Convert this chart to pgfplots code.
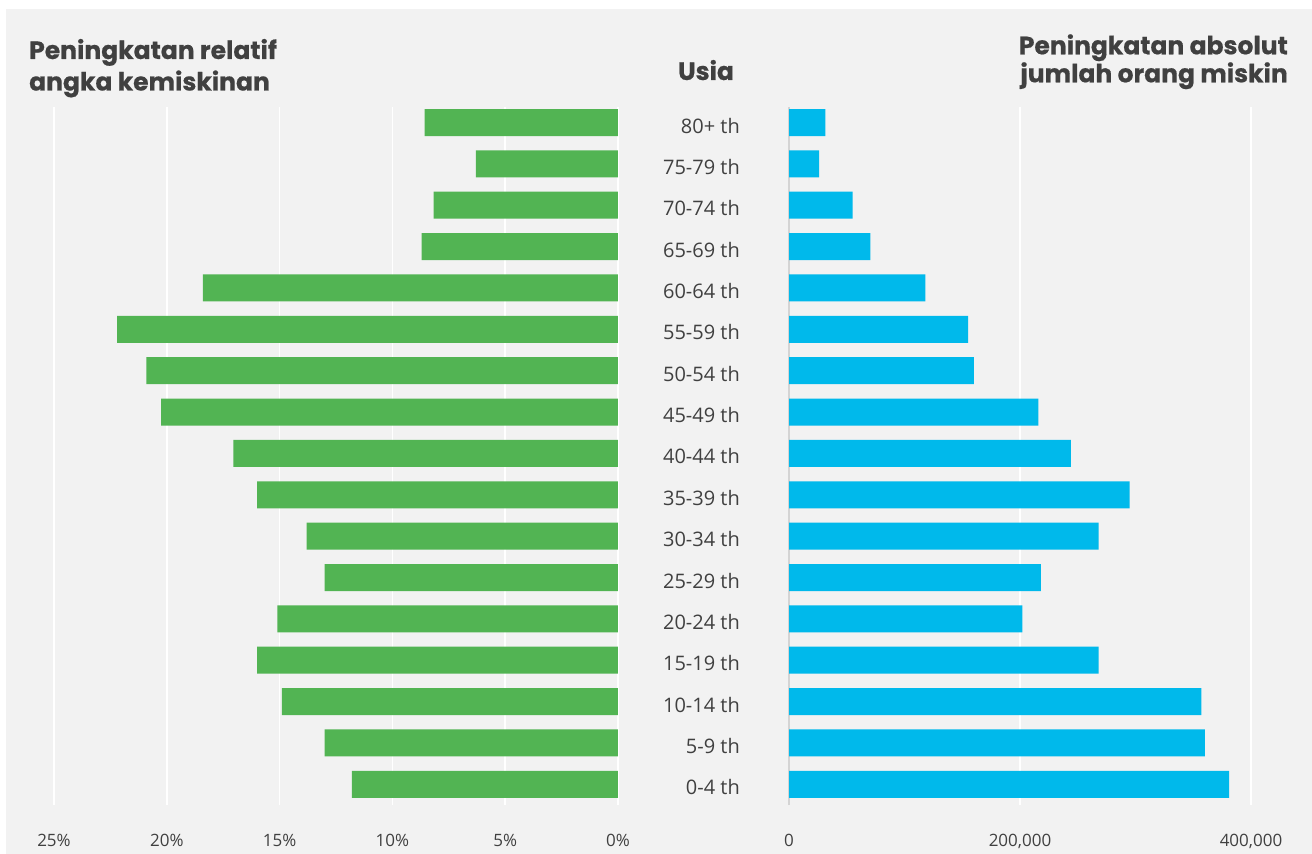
\documentclass[border=0pt]{standalone}
\usepackage{pgfplots}
\pgfplotsset{compat=1.18}
\usepackage{pgfplotstable}
\usepackage{fontspec}
\setmainfont{Open Sans}
\newfontfamily\titlefont{Poppins}[BoldFeatures={FakeBold=0.6}]

\definecolor{bg}{HTML}{F2F2F2}
\definecolor{txt}{HTML}{404040}
\definecolor{grn}{RGB}{82,180,83}
\definecolor{blu}{RGB}{0,185,235}
\definecolor{zeroline}{HTML}{D4D4D4}

% y: 0 = 0-4 th ... 16 = 80+ th
\pgfplotstableread{
y rel abs
0 11.8 381000
1 13.0 360000
2 14.9 357000
3 16.0 268000
4 15.1 202000
5 13.0 218000
6 13.8 268000
7 16.0 295000
8 17.05 244000
9 20.25 216000
10 20.9 160000
11 22.2 155000
12 18.4 118000
13 8.7 70500
14 8.17 55000
15 6.3 26000
16 8.57 31500
}\data

\pgfplotsset{
  pyr/.style={
    scale only axis, height=698pt,
    ymin=-0.5, ymax=16.375,
    axis line style={draw=none},
    tick style={draw=none},
    xmajorgrids,
    grid style={white, line width=1.6pt},
    xticklabel style={font=\fontsize{17}{20}\selectfont, text=txt, yshift=-26pt},
  },
}

\begin{document}
\begin{tikzpicture}
\fill[bg] (6pt,0pt) rectangle (1312pt,845pt);
\path[use as bounding box] (0pt,0pt) rectangle (1312pt,854pt);

% left: relative increase
\begin{axis}[pyr,
  at={(54pt,49pt)}, anchor=south west,
  width=564pt,
  x dir=reverse,
  xmin=0, xmax=25,
  xtick={0,5,...,25},
  xticklabels={0\%,5\%,10\%,15\%,20\%,25\%},
  ytick=\empty,
]
\addplot[xbar, fill=grn, draw=none, bar width=27pt, bar shift=0pt]
  table[x=rel, y=y] {\data};
\end{axis}

% right: absolute increase
\begin{axis}[pyr,
  at={(789pt,49pt)}, anchor=south west,
  width=462pt,
  xmin=0, xmax=400000,
  xtick={200000,400000},
  xticklabels={{200,000},{400,000}},
  extra x ticks={0},
  extra x tick labels={0},
  extra x tick style={grid style={zeroline, line width=1.6pt}},
  ytick={0,...,16},
  yticklabels={0-4 th,5-9 th,10-14 th,15-19 th,20-24 th,25-29 th,30-34 th,
    35-39 th,40-44 th,45-49 th,50-54 th,55-59 th,60-64 th,65-69 th,
    70-74 th,75-79 th,80+ th},
  yticklabel style={font=\fontsize{20}{24}\selectfont, text=txt,
    anchor=east, inner sep=0pt, xshift=-49pt, yshift=-3pt},
]
\addplot[xbar, fill=blu, draw=none, bar width=27pt, bar shift=0pt]
  table[x=abs, y=y] {\data};
\end{axis}

% titles
\begin{scope}[every node/.style={text=txt, inner sep=0pt,
    font=\titlefont\bfseries\fontsize{25}{30}\selectfont}]
\node[anchor=base west] at (29pt,795pt) {Peningkatan relatif};
\node[anchor=base west] at (29pt,763.5pt) {angka kemiskinan};
\node[anchor=base east] at (1288pt,799.7pt) {Peningkatan absolut};
\node[anchor=base east] at (1288pt,771.7pt) {jumlah orang miskin};
\node[anchor=base] at (706pt,774pt) {Usia};
\end{scope}
\end{tikzpicture}
\end{document}
